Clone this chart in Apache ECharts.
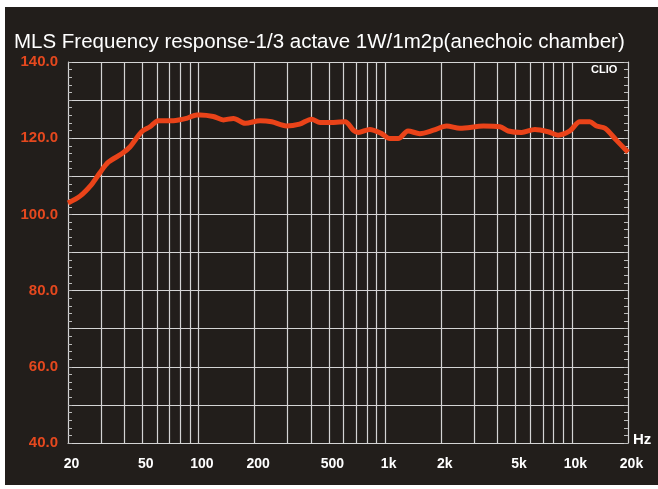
<!DOCTYPE html>
<html lang="en">
<head>
  <meta charset="UTF-8">
  <title>MLS Frequency response</title>
  <script src="https://cdn.jsdelivr.net/npm/echarts@6/dist/echarts.min.js"></script>
  <style>
    body { margin: 0; background: #fff; }
    #bg { position: absolute; left: 5px; top: 7px; width: 653px; height: 478px; background: #221e1b; }
    #main { position: absolute; left: 0; top: 0; width: 658px; height: 489px; }
  </style>
</head>
<body>
  <div id="bg"></div>
  <div id="main"></div>
  <script>
    // frequency (Hz) / level (dB)
    var freqs = [20, 23.2, 26.8, 29.7, 32.9, 38.8, 42.9, 49.6, 55, 61, 73.4, 86.4, 97.8,
      102, 120, 136, 154, 178, 214, 247, 296, 348, 404, 448, 488, 610, 676, 718, 828,
      958, 1060, 1174, 1326, 1534, 1814, 2134, 2518, 3360, 4120, 4560, 5380, 6340,
      7460, 8440, 9760, 11040, 12480, 13580, 15060, 17320, 20000]
    var levels = [103.0, 104.8, 107.9, 111.0, 113.7, 115.9, 117.7, 121.7, 123.0, 124.6, 124.6, 125.2, 126.1,
      126.1, 125.7, 124.8, 125.2, 123.9, 124.6, 124.3, 123.2, 123.7, 125.0, 124.1, 124.1, 124.3, 122.1, 121.5, 122.3,
      121.2, 119.9, 119.9, 121.9, 121.2, 122.1, 123.2, 122.6, 123.2, 123.0, 121.9, 121.5, 122.3,
      121.7, 120.8, 121.9, 124.3, 124.3, 123.2, 122.6, 119.5, 116.3]

    var gridFreqs = [20, 30, 40, 50, 60, 70, 80, 90, 100, 200, 300, 400, 500, 600, 700, 800, 900,
      1000, 2000, 3000, 4000, 5000, 6000, 7000, 8000, 9000, 10000, 20000]
    var labelFreqs = [20, 50, 100, 200, 500, 1000, 2000, 5000, 10000, 20000]
    var yLabels = [40, 60, 80, 100, 120, 140]

    var lg = function (f) { return Math.log10(f) }
    var data = freqs.map(function (f, i) { return [lg(f), levels[i]] })

    var gridColor = '#d4d4d4'
    var chart = echarts.init(document.getElementById('main'))
    chart.setOption({
      backgroundColor: 'transparent',
      animation: false,
      title: {
        text: 'MLS Frequency response-1/3 actave 1W/1m2p(anechoic chamber)',
        left: 9, top: 27,
        textStyle: { color: '#fff', fontFamily: 'Liberation Sans', fontWeight: 'normal', fontSize: 20.5 }
      },
      graphic: [
        { type: 'text', left: 591, top: 64, style: { text: 'CLIO', fill: '#fff', font: 'bold 11px Liberation Sans' } },
        { type: 'text', left: 633, top: 432, style: { text: 'Hz', fill: '#fff', font: 'bold 15px Liberation Sans' } }
      ],
      grid: { left: 68, right: 30, top: 62, bottom: 46 },
      xAxis: {
        type: 'value',
        min: lg(20), max: lg(20000),
        axisLine: { show: true, lineStyle: { color: gridColor } },
        axisTick: { show: false, customValues: gridFreqs.map(lg) },
        splitLine: { show: true, lineStyle: { color: gridColor, width: 1.2 } },
        axisLabel: {
          customValues: labelFreqs.map(lg),
          color: '#fff', fontFamily: 'Liberation Sans', fontWeight: 'bold', fontSize: 14,
          margin: 14, padding: [0, 0, 0, 7],
          formatter: function (v) {
            var f = Math.round(Math.pow(10, v))
            return f >= 1000 ? (f / 1000) + 'k' : '' + f
          }
        }
      },
      yAxis: [{
        type: 'value', min: 40, max: 140, interval: 10,
        axisLine: { show: true, lineStyle: { color: gridColor } },
        axisTick: { show: true, inside: true, length: 4, lineStyle: { color: '#bbb' } },
        minorTick: { show: true, splitNumber: 5, length: 4, lineStyle: { color: '#bbb' } },
        splitLine: { show: true, lineStyle: { color: gridColor, width: 1.2 } },
        axisLabel: {
          color: '#e5481e', fontFamily: 'Liberation Sans', fontWeight: 'bold', fontSize: 15,
          margin: 10, padding: [7, 0, 0, 0],
          formatter: function (v) { return yLabels.indexOf(v) >= 0 ? v.toFixed(1) : '' }
        }
      }, {
        type: 'value', min: 40, max: 140, interval: 10, position: 'right',
        axisLine: { show: true, lineStyle: { color: gridColor } },
        axisTick: { show: true, inside: true, length: 4, lineStyle: { color: '#bbb' } },
        minorTick: { show: true, splitNumber: 5, length: 4, lineStyle: { color: '#bbb' } },
        splitLine: { show: false },
        axisLabel: { show: false }
      }],
      series: [{
        type: 'line',
        data: data,
        showSymbol: false,
        smooth: 0.3,
        lineStyle: { color: '#ea4319', width: 5 }
      }]
    })
  </script>
</body>
</html>
